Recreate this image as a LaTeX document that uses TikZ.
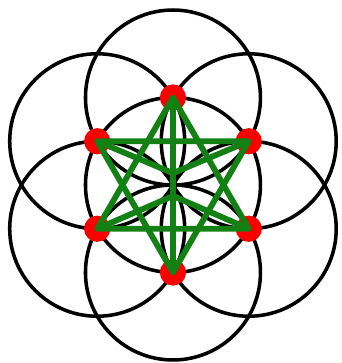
\documentclass[tikz,border=0pt]{standalone}
\usepackage{tikz}
\definecolor{StarGreen}{RGB}{18,128,18}
\definecolor{DotRed}{RGB}{250,0,0}

\begin{document}
\begin{tikzpicture}[
  ring/.style={draw=black, line width=2.3pt},
  dot/.style={circle, fill=DotRed, inner sep=0pt, minimum size=0.6cm},
  starline/.style={draw=StarGreen, line width=3.8pt, line join=round}
]
\useasboundingbox (-3.954,-4.069) rectangle (3.863,4.229);

% Hexagon points
\coordinate (c) at (0,0);
\coordinate (t) at (90:2);
\coordinate (ul) at (150:2);
\coordinate (ll) at (210:2);
\coordinate (b) at (270:2);
\coordinate (lr) at (330:2);
\coordinate (ur) at (30:2);
\coordinate (mu) at (0,0.27);
\coordinate (md) at (0,-0.25);

% Circles
\draw[ring] (c) circle (2);
\draw[ring] (t) circle (2);
\draw[ring] (ul) circle (2);
\draw[ring] (ll) circle (2);
\draw[ring] (b) circle (2);
\draw[ring] (lr) circle (2);
\draw[ring] (ur) circle (2);

% Red points
\node[dot] (dt) at (t) {};
\node[dot] (dul) at (ul) {};
\node[dot] (dll) at (ll) {};
\node[dot] (db) at (b) {};
\node[dot] (dlr) at (lr) {};
\node[dot] (dur) at (ur) {};

% Star and inner lines
\draw[starline] (dt.center) -- (dll.center) -- (dlr.center) -- cycle;
\draw[starline] (db.center) -- (dul.center) -- (dur.center) -- cycle;
\draw[starline] (dt.center) -- (db.center);
\draw[starline] (dul.center) -- (mu) -- (dur.center);
\draw[starline] (dll.center) -- (md) -- (dlr.center);
\end{tikzpicture}
\end{document}
